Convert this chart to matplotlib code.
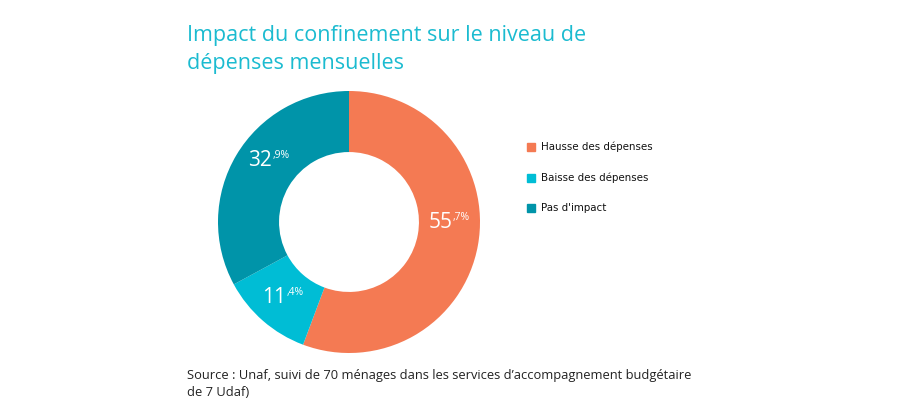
import matplotlib
matplotlib.use('Agg')
import matplotlib.pyplot as plt
from matplotlib.patches import Rectangle
import numpy as np

# data
categories = ['Hausse des dépenses', 'Baisse des dépenses', "Pas d'impact"]
values = [55.7, 11.4, 32.9]
label_main = ['55', '11', '32']
label_sup = [',7%', ',4%', ',9%']
colors = ['#F47A53', '#00BDD5', '#0094A9']

plt.rcParams['font.family'] = ['Open Sans', 'DejaVu Sans']

fig = plt.figure(figsize=(9, 4), dpi=100)
fig.patch.set_facecolor('white')

# donut axes: centre (349, 222) px, radius 131 px
cx, cy, r = 349, 222, 131
ax = fig.add_axes([(cx - r) / 900, (400 - cy - r) / 400, 2 * r / 900, 2 * r / 400])
wedges, _ = ax.pie(values, colors=colors, startangle=90, counterclock=False,
                   radius=1, wedgeprops=dict(width=0.466, edgecolor='none'))
ax.set_xlim(-1, 1)
ax.set_ylim(-1, 1)
ax.set_aspect('equal')
ax.axis('off')

# value labels in the ring (small angular nudges as in the original)
nudge = [10, 0, -7]
for w, m, s, dn in zip(wedges, label_main, label_sup, nudge):
    ang = np.deg2rad((w.theta1 + w.theta2) / 2 + dn)
    x, y = 0.767 * np.cos(ang), 0.767 * np.sin(ang)
    t = ax.text(x - 0.07, y, m, color='white', fontsize=15, ha='center', va='center')
    ax.annotate(s, xy=(1, 1), xycoords=t, xytext=(0.3, 0), textcoords='offset points',
                color='white', fontsize=7.5, ha='left', va='top')

# title
fig.text(187 / 900, 1 - 35 / 400, 'Impact du confinement sur le niveau de',
         color='#1BBBD0', fontsize=15.5, ha='left', va='center')
fig.text(187 / 900, 1 - 63 / 400, 'dépenses mensuelles',
         color='#1BBBD0', fontsize=15.5, ha='left', va='center')

# legend
leg_y = [147, 178, 208]
for c, lab, yy in zip(colors, categories, leg_y):
    fig.patches.append(Rectangle((527 / 900, (400 - yy - 4) / 400), 8 / 900, 8 / 400,
                                 transform=fig.transFigure, color=c))
    fig.text(541 / 900, 1 - yy / 400, lab, fontsize=7.4, color='#111111',
             ha='left', va='center', family=['DejaVu Sans'])

# source
fig.text(187 / 900, 1 - 375 / 400,
         'Source : Unaf, suivi de 70 ménages dans les services d’accompagnement budgétaire',
         fontsize=9.3, color='#222222', ha='left', va='center')
fig.text(187 / 900, 1 - 393 / 400, 'de 7 Udaf)',
         fontsize=9.3, color='#222222', ha='left', va='center')

fig.savefig('out.png', dpi=100)
